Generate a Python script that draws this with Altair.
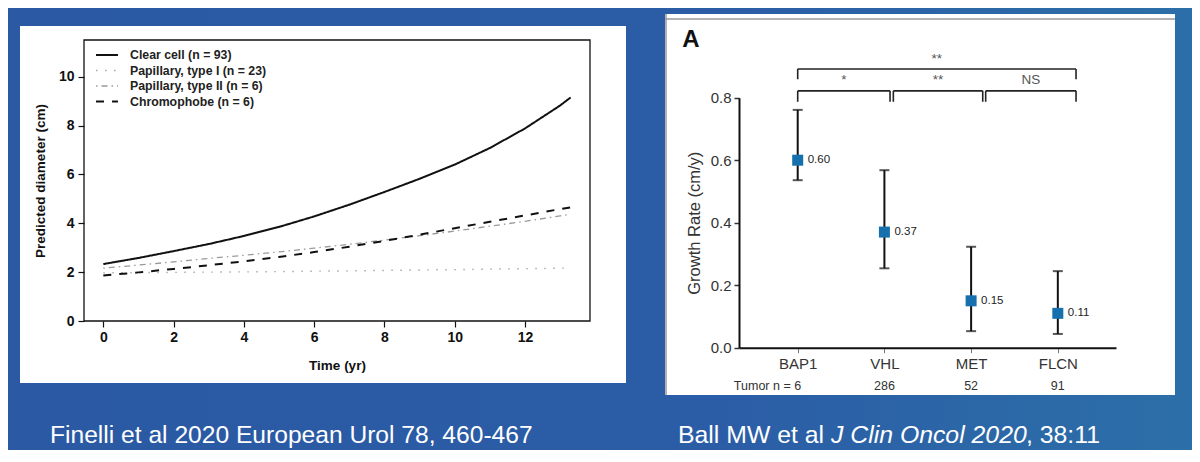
import altair as alt
import pandas as pd

W, H = 1184, 442
FONT = "Liberation Sans"

# ---------------- left chart data (Finelli et al) ----------------
years = [0, 1, 2, 3, 4, 5, 6, 7, 8, 9, 10, 11, 12, 13, 13.3]
clear_cell = [2.33, 2.58, 2.86, 3.15, 3.48, 3.85, 4.28, 4.76, 5.28, 5.82, 6.40, 7.08, 7.88, 8.82, 9.15]
papillary_1 = [1.97, 1.98, 1.99, 2.00, 2.01, 2.02, 2.04, 2.05, 2.07, 2.09, 2.10, 2.12, 2.14, 2.16, 2.17]
papillary_2 = [2.16, 2.29, 2.42, 2.56, 2.69, 2.83, 2.98, 3.14, 3.31, 3.49, 3.68, 3.88, 4.08, 4.30, 4.37]
chromophobe = [1.86, 1.99, 2.13, 2.28, 2.44, 2.62, 2.82, 3.04, 3.28, 3.53, 3.80, 4.06, 4.32, 4.58, 4.65]
series_names = ["Clear cell (n = 93)", "Papillary, type I (n = 23)",
                "Papillary, type II (n = 6)", "Chromophobe (n = 6)"]
left_x_ticks = [0, 2, 4, 6, 8, 10, 12]
left_y_ticks = [0, 2, 4, 6, 8, 10]

# ---------------- right chart data (Ball et al) ----------------
genes = ["BAP1", "VHL", "MET", "FLCN"]
gene_pos = [0, 1, 2, 3]
growth = [0.60, 0.37, 0.15, 0.11]
growth_text = ["0.60", "0.37", "0.15", "0.11"]
ci_low = [0.536, 0.254, 0.053, 0.044]
ci_high = [0.761, 0.568, 0.323, 0.245]
tumor_n = ["6", "286", "52", "91"]
right_y_ticks = [0, 0.2, 0.4, 0.6, 0.8]

bracket_x1 = [0, 0, 1.103, 2.168]
bracket_x2 = [3.21, 1.065, 2.134, 3.21]
bracket_y = [0.892, 0.822, 0.822, 0.822]
bracket_drop = [0.859, 0.787, 0.787, 0.787]
bracket_text = ["**", "*", "**", "NS"]
bracket_text_y = [0.924, 0.857, 0.857, 0.857]

# ---------------- layout constants ----------------
LX_DOMAIN, LX_RANGE = [-0.55, 13.85], [76, 582]
LY_DOMAIN, LY_RANGE = [0, 11.5], [313, 32]
RX_DOMAIN, RX_RANGE = [-0.677, 3.671], [731, 1108]
RY_DOMAIN, RY_RANGE = [0, 0.8], [339.7, 89.7]

one = pd.DataFrame({"k": [0]})


def sc(domain, rng):
    return alt.Scale(domain=domain, range=rng, nice=False, zero=False)


def lxq(field, axis=None):
    return alt.X(field, type="quantitative", scale=sc(LX_DOMAIN, LX_RANGE), axis=axis)


def lyq(field, axis=None):
    return alt.Y(field, type="quantitative", scale=sc(LY_DOMAIN, LY_RANGE), axis=axis)


def rxq(field, axis=None):
    return alt.X(field, type="quantitative", scale=sc(RX_DOMAIN, RX_RANGE), axis=axis)


def ryq(field, axis=None):
    return alt.Y(field, type="quantitative", scale=sc(RY_DOMAIN, RY_RANGE), axis=axis)


# ---------------- left chart ----------------
line_rows = []
for name, vals in zip(series_names, [clear_cell, papillary_1, papillary_2, chromophobe]):
    for t, v in zip(years, vals):
        line_rows.append({"t": t, "d": v, "series": name})
line_df = pd.DataFrame(line_rows)

left_x_axis = alt.Axis(values=left_x_ticks, orient="bottom", offset=LY_RANGE[0] - H, domain=False,
                       grid=False, zindex=2, tickSize=6, tickColor="#111", tickWidth=1.2,
                       labelFont=FONT, labelFontSize=14, labelFontWeight="bold", labelColor="#111",
                       labelPadding=3, labelFlush=False, title="Time (yr)", titleFont=FONT,
                       titleFontSize=13.5, titleFontWeight="bold", titleColor="#111", titlePadding=14)
left_y_axis = alt.Axis(values=left_y_ticks, orient="left", offset=-LX_RANGE[0], domain=False,
                       grid=False, zindex=2, tickSize=6, tickColor="#111", tickWidth=1.2,
                       labelFont=FONT, labelFontSize=14, labelFontWeight="bold", labelColor="#111",
                       labelPadding=4, labelFlush=False, title="Predicted diameter (cm)",
                       titleFont=FONT, titleFontSize=13.5, titleFontWeight="bold", titleColor="#111",
                       titlePadding=11)

legend_left = alt.Legend(title=None, orient="none", legendX=92, legendY=40, padding=0,
                         symbolType="M-1.83,0H1.83", symbolSize=144, labelFont=FONT,
                         labelFontSize=12.3, labelFontWeight="bold", labelColor="#222",
                         labelOffset=16, rowPadding=1.5)

lines = alt.Chart(line_df).mark_line(strokeCap="butt").encode(
    x=lxq("t", left_x_axis),
    y=lyq("d", left_y_axis),
    color=alt.Color("series:N", scale=alt.Scale(domain=series_names,
                    range=["#111111", "#a8a8a8", "#9a9a9a", "#111111"]), legend=legend_left),
    strokeDash=alt.StrokeDash("series:N", scale=alt.Scale(domain=series_names,
                              range=[[1, 0], [1.5, 7.5], [1.5, 4, 6, 4], [8, 8]]), legend=legend_left),
    strokeWidth=alt.StrokeWidth("series:N", scale=alt.Scale(type="ordinal", domain=series_names,
                                range=[2, 1.4, 1.3, 2]), legend=legend_left),
    order="t:Q",
)

box_df = pd.DataFrame({"x0": [LX_DOMAIN[0]], "x1": [LX_DOMAIN[1]], "y0": [LY_DOMAIN[0]], "y1": [LY_DOMAIN[1]]})
box = alt.Chart(box_df).mark_rect(fillOpacity=0, stroke="#111", strokeWidth=1.3).encode(
    x=lxq("x0"), x2="x1:Q", y=lyq("y0"), y2="y1:Q")

# ---------------- right chart ----------------
gdf = pd.DataFrame({"pos": gene_pos, "gene": genes, "g": growth, "lab": growth_text,
                    "lo": ci_low, "hi": ci_high, "n": tumor_n})
label_expr = "[" + ",".join("'%s'" % g for g in genes) + "][datum.value]"

right_x_axis = alt.Axis(values=gene_pos, labelExpr=label_expr, orient="bottom",
                        offset=RY_RANGE[0] - H, grid=False, zindex=2, domainColor="#111",
                        domainWidth=2, tickSize=5, tickColor="#777", tickWidth=1, labelFont=FONT,
                        labelFontSize=15, labelColor="#333", labelPadding=4, labelFlush=False,
                        title=None)
right_y_axis = alt.Axis(values=right_y_ticks, format=".1f", orient="left", offset=-RX_RANGE[0],
                        grid=False, zindex=2, domainColor="#111", domainWidth=2, tickSize=5,
                        tickColor="#333", tickWidth=1.5, labelFont=FONT, labelFontSize=15,
                        labelColor="#333", labelPadding=3, labelFlush=False,
                        title="Growth Rate (cm/y)", titleFont=FONT, titleFontSize=16.5,
                        titleFontWeight="normal", titleColor="#333", titlePadding=8)

err = alt.Chart(gdf).mark_rule(color="#111", strokeWidth=2).encode(
    x=rxq("pos", right_x_axis), y=ryq("lo", right_y_axis), y2="hi:Q")
cap_lo = alt.Chart(gdf).mark_tick(orient="horizontal", size=10, thickness=2, color="#111").encode(
    x=rxq("pos"), y=ryq("lo"))
cap_hi = alt.Chart(gdf).mark_tick(orient="horizontal", size=10, thickness=2, color="#111").encode(
    x=rxq("pos"), y=ryq("hi"))
squares = alt.Chart(gdf).mark_square(size=121, color="#1570AD", opacity=1).encode(
    x=rxq("pos"), y=ryq("g"))
vals = alt.Chart(gdf).mark_text(align="left", baseline="middle", dx=10, font=FONT, fontSize=11.5,
                                color="#222").encode(x=rxq("pos"), y=ryq("g"), text="lab:N")
n_row = alt.Chart(gdf).mark_text(align="center", baseline="middle", font=FONT, fontSize=12.5,
                                 color="#333").encode(x=rxq("pos"), y=alt.value(378), text="n:N")
tumor_lab = alt.Chart(gdf.head(1)).mark_text(align="right", baseline="middle", dx=-7, font=FONT,
                                             fontSize=12.5, color="#333", text="Tumor n =").encode(
    x=rxq("pos"), y=alt.value(378))

bdf = pd.DataFrame({"x1": bracket_x1, "x2": bracket_x2, "y": bracket_y, "drop": bracket_drop,
                    "txt": bracket_text, "ty": bracket_text_y})
bdf["mid"] = (bdf["x1"] + bdf["x2"]) / 2
ends = pd.concat([bdf[["x1", "y", "drop"]].rename(columns={"x1": "xe"}),
                  bdf[["x2", "y", "drop"]].rename(columns={"x2": "xe"})])

br_h = alt.Chart(bdf).mark_rule(color="#222", strokeWidth=1.6).encode(
    x=rxq("x1"), x2="x2:Q", y=ryq("y"))
br_v = alt.Chart(ends).mark_rule(color="#222", strokeWidth=1.6).encode(
    x=rxq("xe"), y=ryq("y"), y2="drop:Q")
br_t = alt.Chart(bdf).mark_text(align="center", baseline="middle", font=FONT, fontSize=13.5,
                                color="#555").encode(x=rxq("mid"), y=ryq("ty"), text="txt:N")

# ---------------- slide decoration ----------------
grad = alt.LinearGradient(gradient="linear", x1=0, x2=1, y1=0, y2=0, stops=[
    alt.GradientStop(color="#2B59A4", offset=0),
    alt.GradientStop(color="#2B5DA6", offset=0.6),
    alt.GradientStop(color="#2C6FA8", offset=1)])
bg = alt.Chart(one).mark_rect(color=grad).encode(
    x=alt.value(0), x2=alt.value(W), y=alt.value(0), y2=alt.value(H))
panel_l = alt.Chart(one).mark_rect(color="white").encode(
    x=alt.value(12), x2=alt.value(618), y=alt.value(18), y2=alt.value(375))
panel_r = alt.Chart(one).mark_rect(color="white").encode(
    x=alt.value(657), x2=alt.value(1167), y=alt.value(6), y2=alt.value(387))
edge_top = alt.Chart(one).mark_rule(color="#9a9a9a", strokeWidth=1.5).encode(
    x=alt.value(657), x2=alt.value(1167), y=alt.value(11))
edge_left = alt.Chart(one).mark_rule(color="#9a9a9a", strokeWidth=1.5).encode(
    x=alt.value(658), y=alt.value(6), y2=alt.value(387))

letter_a = alt.Chart(one).mark_text(align="center", baseline="alphabetic", font=FONT, fontSize=24,
                                    fontWeight="bold", color="#111", text="A").encode(
    x=alt.value(683), y=alt.value(39))

cap_style = dict(align="left", baseline="alphabetic", font=FONT, color="white")
cap1 = alt.Chart(one).mark_text(text="Finelli et al 2020 European Urol 78, 460-467", fontSize=24.6,
                                **cap_style).encode(x=alt.value(42), y=alt.value(435))
cap2a = alt.Chart(one).mark_text(text="Ball MW et al ", fontSize=24.8, **cap_style).encode(
    x=alt.value(670), y=alt.value(435))
cap2b = alt.Chart(one).mark_text(text="J Clin Oncol 2020", fontStyle="italic", fontSize=24.8,
                                 **cap_style).encode(x=alt.value(823), y=alt.value(435))
cap2c = alt.Chart(one).mark_text(text=", 38:11", fontSize=24.8, **cap_style).encode(
    x=alt.value(1018), y=alt.value(435))

chart = alt.LayerChart(layer=[bg, panel_l, panel_r, edge_top, edge_left,
                              box, lines,
                              err, cap_lo, cap_hi, squares, vals, n_row, tumor_lab, br_h, br_v, br_t,
                              letter_a, cap1, cap2a, cap2b, cap2c]).resolve_scale(
    x="independent", y="independent").resolve_axis(x="independent", y="independent").properties(
    width=W, height=H, autosize=alt.AutoSizeParams(type="none"), padding=0,
    background="#2B5BA5").configure_view(strokeWidth=0)

chart.save("out.html", embed_options={"renderer": "svg", "actions": False})
